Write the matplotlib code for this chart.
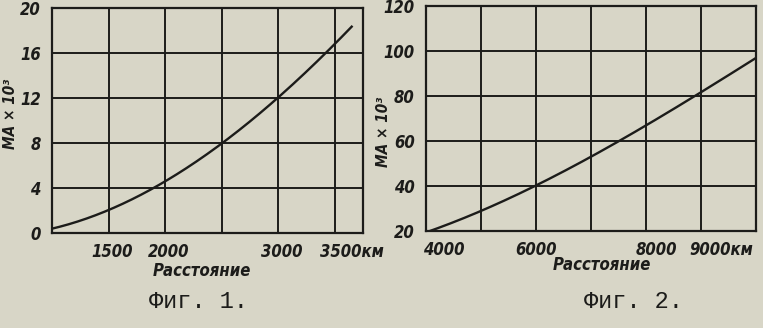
import matplotlib
matplotlib.use("Agg")
import matplotlib.pyplot as plt
import numpy as np
from matplotlib import font_manager
from matplotlib.transforms import ScaledTranslation

# Data
dist1 = [1000, 1250, 1500, 1750, 2000, 2250, 2500, 2750, 3000, 3250, 3500, 3650]
ma1 = [0.4, 1.1, 2.0, 3.2, 4.6, 6.2, 8.0, 9.9, 12.0, 14.3, 16.9, 18.3]
xticks1 = [1500, 2000, 3000, 3500]
xticklabels1 = ["1500", "2000", "3000", "3500км"]
yticks1 = [0, 4, 8, 12, 16, 20]

dist2 = [4000, 5000, 6000, 7000, 8000, 9000, 10000]
ma2 = [19.5, 28.6, 40.5, 53.0, 67.0, 81.5, 97.0]
xticks2 = [4000, 6000, 8000, 9000]
xticklabels2 = ["4000", "6000", "8000", "9000км"]
yticks2 = [20, 40, 60, 80, 100, 120]

ylabel = "MA × 10³"
xlabel = "Расстояние"
captions = ["Фиг. 1.", "Фиг. 2."]

# look for a condensed / narrow sans face
cond = None
for f in font_manager.fontManager.ttflist:
    fn = f.fname.lower()
    if ("condensed" in fn or "narrow" in fn) and ("sans" in fn or "roboto" in fn or "liberation" in fn):
        score = (("bold" in fn) + ("oblique" in fn or "italic" in fn))
        if cond is None or score > cond[0]:
            cond = (score, f.fname)

if cond is not None:
    def tfp(size):
        return font_manager.FontProperties(fname=cond[1], size=size)
    tsize = 12
else:
    def tfp(size):
        return font_manager.FontProperties(family="DejaVu Sans", style="italic", weight="bold", size=size)
    tsize = 10

bg = "#d8d6c7"
ink = "#1c1c1a"

W, H = 763, 328
fig = plt.figure(figsize=(W / 100, H / 100), dpi=100, facecolor=bg)

def ax_rect(l, r, t, b):
    return [l / W, 1 - b / H, (r - l) / W, (b - t) / H]

def smooth(x, y):
    x = np.asarray(x, float); y = np.asarray(y, float)
    c = np.polyfit(x, y, 3)
    xs = np.linspace(x[0], x[-1], 200)
    return xs, np.polyval(c, xs)

def setup(ax, xlim, ylim, xgrid, ygrid, xt, xtl, yt):
    ax.set_facecolor(bg)
    ax.set_xlim(*xlim); ax.set_ylim(*ylim)
    for g in xgrid:
        ax.axvline(g, color=ink, lw=1.4, zorder=1)
    for g in ygrid:
        ax.axhline(g, color=ink, lw=1.4, zorder=1)
    for s in ax.spines.values():
        s.set_color(ink); s.set_linewidth(1.6)
    ax.set_xticks(xt)
    ax.set_xticklabels(xtl)
    ax.set_yticks(yt)
    ax.tick_params(length=0, colors=ink)
    ax.tick_params(axis="y", pad=8)
    ax.tick_params(axis="x", pad=7)
    for lab in ax.get_xticklabels() + ax.get_yticklabels():
        lab.set_fontproperties(tfp(tsize))

def shift(lab, dx):
    lab.set_transform(lab.get_transform() + ScaledTranslation(dx / 100, 0, fig.dpi_scale_trans))

ax1 = fig.add_axes(ax_rect(52, 363, 8, 233))
setup(ax1, (1000, 3750), (0, 20), [1500, 2000, 2500, 3000, 3500], [4, 8, 12, 16], xticks1, xticklabels1, yticks1)
xs, ys = smooth(dist1, ma1)
ax1.plot(xs, ys, color=ink, lw=1.7, zorder=3)
labs = ax1.get_xticklabels()
for l in labs[:3]:
    shift(l, 4)
shift(labs[3], 17)

ax2 = fig.add_axes(ax_rect(426, 756, 6, 231))
setup(ax2, (4000, 10000), (20, 120), [5000, 6000, 7000, 8000, 9000], [40, 60, 80, 100], xticks2, xticklabels2, yticks2)
xs, ys = smooth(dist2, ma2)
ax2.plot(xs, ys, color=ink, lw=1.7, zorder=3)
labs = ax2.get_xticklabels()
shift(labs[0], 18)
shift(labs[2], 10)
shift(labs[3], 20)

fig.text(11 / W, 1 - 114 / H, ylabel, rotation=90, ha="center", va="center",
         fontproperties=tfp(tsize - 1), color=ink)
fig.text(383 / W, 1 - 132 / H, ylabel, rotation=90, ha="center", va="center",
         fontproperties=tfp(tsize - 1), color=ink)

fig.text(202 / W, 1 - 271 / H, xlabel, ha="center", va="center",
         fontproperties=tfp(tsize), color=ink)
fig.text(602 / W, 1 - 265 / H, xlabel, ha="center", va="center",
         fontproperties=tfp(tsize), color=ink)

fig.text(198 / W, 1 - 302 / H, captions[0], ha="center", va="center", fontsize=17,
         family=["Liberation Mono", "DejaVu Sans Mono"], color=ink)
fig.text(633 / W, 1 - 302 / H, captions[1], ha="center", va="center", fontsize=17,
         family=["Liberation Mono", "DejaVu Sans Mono"], color=ink)

fig.savefig("out.png", dpi=100, facecolor=bg)
